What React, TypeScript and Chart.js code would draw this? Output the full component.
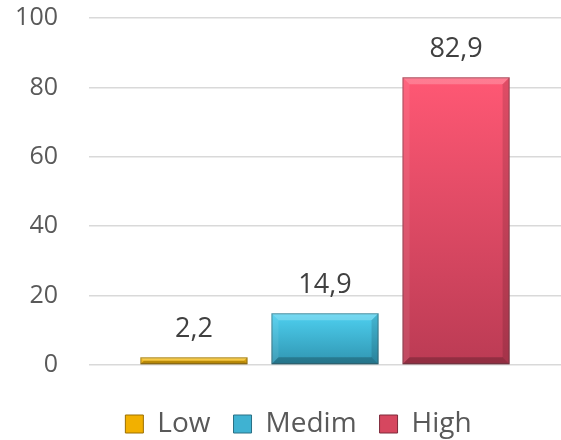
import React, { useEffect, useRef } from "react";
import { Chart, registerables } from "chart.js";

Chart.register(...registerables);

const categories = [""];
const seriesNames = ["Low", "Medim", "High"];
const lowValues = [2.2];
const mediumValues = [14.9];
const highValues = [82.9];
const yMin = 0;
const yMax = 100;
const yStep = 20;

const FONT = "'Open Sans', 'DejaVu Sans', sans-serif";

const palettes = [
  { top: "#FFC61A", bottom: "#DFA000", solid: "#F2B000", edge: "#9C7000" },
  { top: "#4ED0F0", bottom: "#2F94B0", solid: "#3FB2D2", edge: "#2A7085" },
  { top: "#FF5874", bottom: "#BB3B54", solid: "#D6475F", edge: "#7E2A3B" },
];

const bevelPlugin = {
  id: "bevel",
  afterDatasetsDraw(chart: any) {
    const c = chart.ctx;
    chart.data.datasets.forEach((_: any, di: number) => {
      const meta = chart.getDatasetMeta(di);
      if (meta.hidden) return;
      meta.data.forEach((el: any) => {
        const { x, y, base, width } = el.getProps(["x", "y", "base", "width"], true);
        const l = x - width / 2;
        const r = x + width / 2;
        const t = Math.min(y, base);
        const b = Math.max(y, base);
        const h = b - t;
        const s = Math.min(7, h / 2, width / 2);
        c.save();
        c.fillStyle = "rgba(255,255,255,0.22)";
        c.beginPath();
        c.moveTo(l, t); c.lineTo(r, t); c.lineTo(r - s, t + s); c.lineTo(l + s, t + s); c.closePath();
        c.fill();
        c.fillStyle = "rgba(255,255,255,0.08)";
        c.beginPath();
        c.moveTo(l, t); c.lineTo(l + s, t + s); c.lineTo(l + s, b - s); c.lineTo(l, b); c.closePath();
        c.fill();
        c.fillStyle = "rgba(0,0,0,0.12)";
        c.beginPath();
        c.moveTo(r, t); c.lineTo(r, b); c.lineTo(r - s, b - s); c.lineTo(r - s, t + s); c.closePath();
        c.fill();
        c.fillStyle = "rgba(0,0,0,0.22)";
        c.beginPath();
        c.moveTo(l, b); c.lineTo(l + s, b - s); c.lineTo(r - s, b - s); c.lineTo(r, b); c.closePath();
        c.fill();
        c.strokeStyle = "rgba(60,60,60,0.45)";
        c.lineWidth = 1;
        c.strokeRect(l + 0.5, t + 0.5, width - 1, h - 1);
        c.restore();
      });
    });
  },
};

const valueLabelPlugin = {
  id: "valueLabels",
  afterDatasetsDraw(chart: any) {
    const c = chart.ctx;
    c.save();
    c.font = `27px ${FONT}`;
    c.fillStyle = "#404040";
    c.textAlign = "center";
    c.textBaseline = "middle";
    chart.data.datasets.forEach((ds: any, di: number) => {
      const meta = chart.getDatasetMeta(di);
      meta.data.forEach((el: any, i: number) => {
        const v = ds.data[i];
        const text = String(v).replace(".", ",");
        c.fillText(text, el.x, el.y - 28);
      });
    });
    c.restore();
  },
};

// nudge the legend block to the right, as in the reference
const legendShiftPlugin = {
  id: "legendShift",
  beforeDraw(chart: any) {
    if (chart.legend) chart.legend.left = 36;
  },
};

function makeFill(idx: number) {
  return (ctx: any) => {
    const chart = ctx.chart;
    const yScale = chart.scales?.y;
    const p = palettes[idx];
    if (!yScale || !chart.chartArea) return p.solid;
    const v = ctx.raw ?? 0;
    const yTop = yScale.getPixelForValue(v);
    const yBase = yScale.getPixelForValue(0);
    if (!isFinite(yTop) || !isFinite(yBase) || yTop === yBase) return p.solid;
    const g = chart.ctx.createLinearGradient(0, yTop, 0, yBase);
    g.addColorStop(0, p.top);
    g.addColorStop(1, p.bottom);
    return g;
  };
}

export default function App() {
  const ref = useRef<HTMLCanvasElement>(null);
  useEffect(() => {
    if (!ref.current) return;
    const seriesValues = [lowValues, mediumValues, highValues];
    const chart = new Chart(ref.current, {
      type: "bar",
      data: {
        labels: categories,
        datasets: seriesNames.map((name, i) => ({
          label: name,
          data: seriesValues[i],
          backgroundColor: makeFill(i),
          borderWidth: 0,
          categoryPercentage: 0.833,
          barPercentage: 0.817,
        })),
      },
      options: {
        animation: false,
        responsive: false,
        maintainAspectRatio: false,
        layout: { padding: { top: 0, right: 0, bottom: -8, left: 0 } },
        plugins: {
          tooltip: { enabled: false },
          legend: {
            position: "bottom",
            labels: {
              font: { family: FONT, size: 28 },
              color: "#595959",
              boxWidth: 18,
              boxHeight: 18,
              padding: 23,
              generateLabels: (ch: any) =>
                ch.data.datasets.map((ds: any, i: number) => ({
                  text: ds.label,
                  fillStyle: palettes[i].solid,
                  strokeStyle: palettes[i].edge,
                  lineWidth: 1,
                  hidden: false,
                  datasetIndex: i,
                  fontColor: "#595959",
                })),
            },
          },
        },
        scales: {
          x: {
            display: true,
            grid: { display: false, drawTicks: false },
            border: { display: false },
            ticks: { display: false },
            afterFit: (scale: any) => {
              scale.height = 22;
              scale.paddingLeft = 0;
              scale.paddingRight = 0;
            },
          },
          y: {
            min: yMin,
            max: yMax,
            ticks: {
              stepSize: yStep,
              font: { family: FONT, size: 25 },
              color: "#595959",
              padding: 31,
            },
            grid: { color: "#d9d9d9", lineWidth: 1.5, drawTicks: false },
            border: { display: false },
            afterFit: (scale: any) => {
              scale.width = 89;
              scale.paddingTop = 18;
              scale.paddingBottom = 0;
            },
          },
        },
      },
      plugins: [legendShiftPlugin, bevelPlugin, valueLabelPlugin],
    });
    return () => chart.destroy();
  }, []);
  return (
    <div style={{ position: "fixed", left: 0, top: 0, width: 561, height: 440, background: "#fff" }}>
      <canvas ref={ref} width={561} height={440} style={{ width: 561, height: 440 }} />
    </div>
  );
}
